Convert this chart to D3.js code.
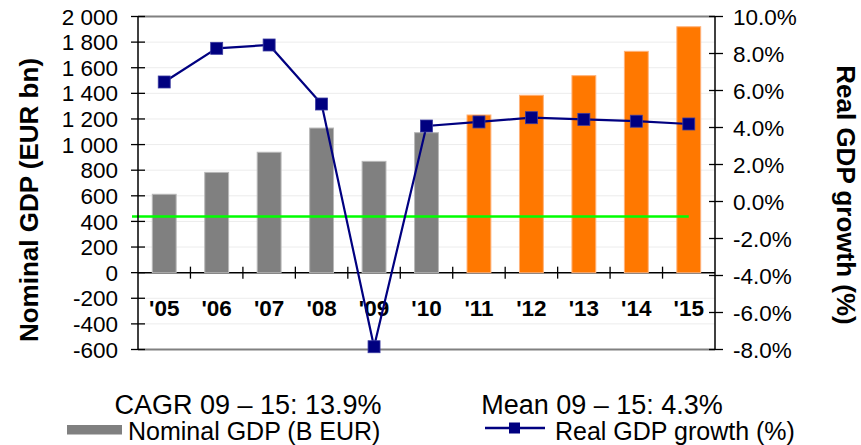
<!DOCTYPE html>
<html>
<head>
<meta charset="utf-8">
<script src="https://cdn.jsdelivr.net/npm/d3@7/dist/d3.min.js"></script>
<style>
  html, body { margin: 0; padding: 0; background: #fff; }
  svg { display: block; font-family: "Liberation Sans", Arial, sans-serif; }
</style>
</head>
<body>
<svg id="chart" width="861" height="445"></svg>
<script>
// Nominal GDP (EUR bn) and real GDP growth (%), 2005–2015
const years = ["'05", "'06", "'07", "'08", "'09", "'10", "'11", "'12", "'13", "'14", "'15"];
const nominalGdp = [612, 783, 940, 1129, 869, 1093, 1231, 1385, 1538, 1728, 1920];
const realGrowth = [6.46, 8.28, 8.46, 5.27, -7.85, 4.08, 4.30, 4.53, 4.44, 4.34, 4.19];
const forecastYears = ["'11", "'12", "'13", "'14", "'15"];
const leftTicks = [-600, -400, -200, 0, 200, 400, 600, 800, 1000, 1200, 1400, 1600, 1800, 2000];
const rightTicks = [-8, -6, -4, -2, 0, 2, 4, 6, 8, 10];
const referenceLevel = 438;
const cagrText = "CAGR 09 \u2013 15: 13.9%";
const meanText = "Mean 09 \u2013 15: 4.3%";
const legendBars = "Nominal GDP (B EUR)";
const legendLine = "Real GDP growth (%)";

const svg = d3.select("#chart");
const plotLeft = 138, plotRight = 715, plotTop = 16.5, plotBottom = 349.5;

const x = d3.scaleBand().domain(years).range([plotLeft, plotRight]).padding(0);
const yL = d3.scaleLinear().domain([-600, 2000]).range([plotBottom, plotTop]);
const yR = d3.scaleLinear().domain([-8, 10]).range([plotBottom, plotTop]);
const bw = x.bandwidth() * 0.455;
const cx = d => x(d) + x.bandwidth() / 2;

// light horizontal gridlines
svg.append("g").selectAll("line")
  .data(leftTicks.filter(t => t !== 0 && t !== -600 && t !== 2000))
  .join("line")
  .attr("x1", plotLeft).attr("x2", plotRight)
  .attr("y1", d => yL(d)).attr("y2", d => yL(d))
  .attr("stroke", "#ececec").attr("stroke-width", 1);

// top and bottom frame
svg.append("line").attr("x1", plotLeft).attr("x2", plotRight)
  .attr("y1", yL(2000)).attr("y2", yL(2000))
  .attr("stroke", "#808080").attr("stroke-width", 2);
svg.append("line").attr("x1", plotLeft).attr("x2", plotRight)
  .attr("y1", yL(-600)).attr("y2", yL(-600))
  .attr("stroke", "#808080").attr("stroke-width", 2);

// category axis along zero
const y0 = yL(0);
svg.append("line").attr("x1", plotLeft).attr("x2", plotRight)
  .attr("y1", y0).attr("y2", y0)
  .attr("stroke", "#000").attr("stroke-width", 1.5);
svg.append("g").selectAll("line")
  .data(years.slice(1))
  .join("line")
  .attr("x1", d => x(d)).attr("x2", d => x(d))
  .attr("y1", y0 - 6).attr("y2", y0 + 6)
  .attr("stroke", "#000").attr("stroke-width", 1.3);

// bars
svg.append("g").selectAll("rect")
  .data(years.map((y, i) => ({ year: y, value: nominalGdp[i] })))
  .join("rect")
  .attr("x", d => cx(d.year) - bw / 2)
  .attr("width", bw)
  .attr("y", d => yL(d.value))
  .attr("height", d => yL(0) - yL(d.value))
  .attr("fill", d => forecastYears.includes(d.year) ? "#ff7800" : "#808080")
  .attr("stroke", d => forecastYears.includes(d.year) ? "#ffb27a" : "#b8b8b8")
  .attr("stroke-width", 1);

// category labels
svg.append("g").selectAll("text")
  .data(years)
  .join("text")
  .attr("x", d => cx(d))
  .attr("y", 316)
  .attr("text-anchor", "middle")
  .attr("font-size", 22.5)
  .attr("font-weight", "bold")
  .attr("fill", "#000")
  .text(d => d);

// green reference line
svg.append("line")
  .attr("x1", plotLeft - 6).attr("x2", cx(years[years.length - 1]))
  .attr("y1", yL(referenceLevel)).attr("y2", yL(referenceLevel))
  .attr("stroke", "#00ff00").attr("stroke-width", 2.5);

// growth line
const line = d3.line().x((d, i) => cx(years[i])).y(d => yR(d));
svg.append("path")
  .datum(realGrowth)
  .attr("d", line)
  .attr("fill", "none")
  .attr("stroke", "#000080")
  .attr("stroke-width", 2.2);
const ms = 12;
svg.append("g").selectAll("rect")
  .data(realGrowth)
  .join("rect")
  .attr("x", (d, i) => cx(years[i]) - ms / 2)
  .attr("y", d => yR(d) - ms / 2)
  .attr("width", ms).attr("height", ms)
  .attr("fill", "#000080")
  .attr("stroke", "#3a3aa0").attr("stroke-width", 0.8);

// left value axis
svg.append("line").attr("x1", plotLeft).attr("x2", plotLeft)
  .attr("y1", plotTop).attr("y2", plotBottom)
  .attr("stroke", "#000").attr("stroke-width", 1.5);
const lg = svg.append("g");
lg.selectAll("line").data(leftTicks).join("line")
  .attr("x1", plotLeft - 7).attr("x2", plotLeft + 7)
  .attr("y1", d => yL(d)).attr("y2", d => yL(d))
  .attr("stroke", "#000").attr("stroke-width", 1.3);
const fmtL = d => d3.format(",")(d).replace(/,/g, " ").replace("\u2212", "-");
lg.selectAll("text").data(leftTicks).join("text")
  .attr("x", 118)
  .attr("y", d => yL(d))
  .attr("dy", "0.36em")
  .attr("text-anchor", "end")
  .attr("font-size", 22.5)
  .attr("fill", "#000")
  .text(fmtL);

// right value axis
svg.append("line").attr("x1", plotRight).attr("x2", plotRight)
  .attr("y1", plotTop).attr("y2", plotBottom)
  .attr("stroke", "#000").attr("stroke-width", 1.5);
const rg = svg.append("g");
rg.selectAll("line").data(rightTicks).join("line")
  .attr("x1", plotRight - 6).attr("x2", plotRight + 8)
  .attr("y1", d => yR(d)).attr("y2", d => yR(d))
  .attr("stroke", "#000").attr("stroke-width", 1.3);
rg.selectAll("text").data(rightTicks).join("text")
  .attr("x", 733)
  .attr("y", d => yR(d))
  .attr("dy", "0.36em")
  .attr("text-anchor", "start")
  .attr("font-size", 22.5)
  .attr("fill", "#000")
  .text(d => d.toFixed(1) + "%");

// axis titles
svg.append("text")
  .attr("transform", "translate(29,200) rotate(-90)")
  .attr("dy", "0.36em")
  .attr("text-anchor", "middle")
  .attr("font-size", 26)
  .attr("font-weight", "bold")
  .text("Nominal GDP (EUR bn)");
svg.append("text")
  .attr("transform", "translate(846.5,195) rotate(90)")
  .attr("dy", "0.36em")
  .attr("text-anchor", "middle")
  .attr("font-size", 26)
  .attr("font-weight", "bold")
  .text("Real GDP growth (%)");

// summary notes
svg.append("text").attr("x", 248).attr("y", 413.5)
  .attr("text-anchor", "middle").attr("font-size", 27).text(cagrText);
svg.append("text").attr("x", 602).attr("y", 413.5)
  .attr("text-anchor", "middle").attr("font-size", 27).text(meanText);

// legend
svg.append("rect").attr("x", 67).attr("y", 425).attr("width", 55).attr("height", 9.5)
  .attr("fill", "#808080");
svg.append("text").attr("x", 128).attr("y", 440)
  .attr("font-size", 25).text(legendBars);
svg.append("line").attr("x1", 485).attr("x2", 545).attr("y1", 428).attr("y2", 428)
  .attr("stroke", "#000080").attr("stroke-width", 2.5);
svg.append("rect").attr("x", 509).attr("y", 422.5).attr("width", 11).attr("height", 11)
  .attr("fill", "#000080");
svg.append("text").attr("x", 555).attr("y", 440)
  .attr("font-size", 25).text(legendLine);
</script>
</body>
</html>
